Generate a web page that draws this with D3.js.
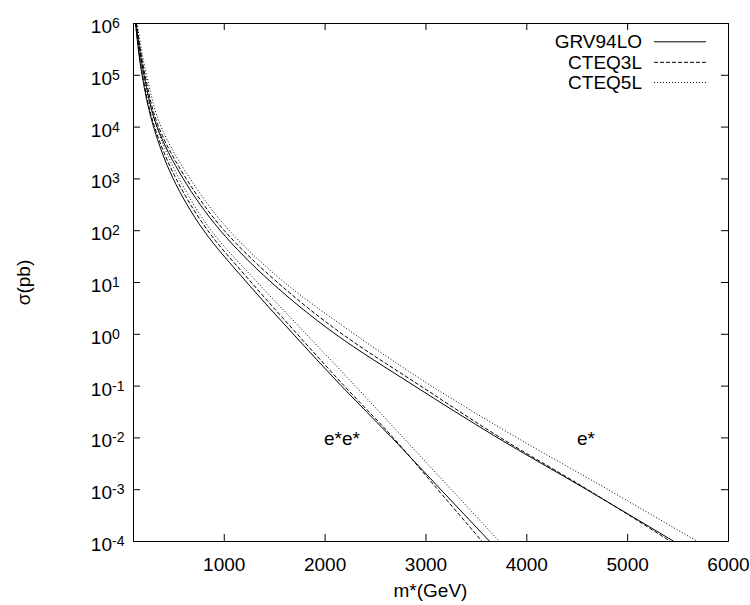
<!DOCTYPE html>
<html>
<head>
<meta charset="utf-8">
<script src="https://cdn.jsdelivr.net/npm/d3@7"></script>
<style>
  body { margin: 0; background: #fff; }
  text { font-family: "Liberation Sans", Arial, Helvetica, sans-serif; fill: #000; }
</style>
</head>
<body>
<svg id="chart" width="750" height="605"></svg>
<script>
// ---- data ----
// cross-section levels (pb) at which each curve's mass m* (GeV) was read
const sigmaLevels = [1e6, 1e5, 1e4, 1e3, 1e2, 1e1, 1e0, 1e-1, 1e-2, 1e-3, 1e-4];
// pair production e*e*
const mPairGRV94LO = [125, 189, 303, 497, 799, 1225, 1687, 2163, 2664, 3149, 3633];
const mPairCTEQ3L  = [125, 194, 313, 526, 839, 1270, 1726, 2192, 2678, 3119, 3558];
const mPairCTEQ5L  = [130, 204, 333, 556, 873, 1330, 1815, 2301, 2777, 3253, 3729];
// single production e*
const mSingleGRV94LO = [130, 209, 338, 596, 963, 1468, 2103, 2886, 3709, 4592, 5457];
const mSingleCTEQ3L  = [135, 219, 353, 626, 1002, 1528, 2172, 2946, 3739, 4602, 5424];
const mSingleCTEQ5L  = [140, 234, 378, 665, 1052, 1597, 2291, 3054, 3902, 4804, 5689];

const xTickValues = [1000, 2000, 3000, 4000, 5000, 6000];
const yExponents = [6, 5, 4, 3, 2, 1, 0, -1, -2, -3, -4];
const pdfNames = ["GRV94LO", "CTEQ3L", "CTEQ5L"];
const curveLabels = ["e*e*", "e*"];

// ---- layout ----
const L = 133, R = 728, T = 23, B = 541;
const svg = d3.select("#chart");
const x = d3.scaleLinear().domain([100, 6000]).range([L, R]);
const y = d3.scaleLog().domain([1e-4, 1e6]).range([B, T]);

const dashFor = { "GRV94LO": null, "CTEQ3L": "4,2", "CTEQ5L": "1,2" };

const series = [
  { pdf: "GRV94LO", m: mPairGRV94LO },
  { pdf: "CTEQ3L",  m: mPairCTEQ3L },
  { pdf: "CTEQ5L",  m: mPairCTEQ5L },
  { pdf: "GRV94LO", m: mSingleGRV94LO },
  { pdf: "CTEQ3L",  m: mSingleCTEQ3L },
  { pdf: "CTEQ5L",  m: mSingleCTEQ5L }
];

svg.append("defs").append("clipPath").attr("id", "plotclip")
  .append("rect").attr("x", L).attr("y", T).attr("width", R - L).attr("height", B - T);

// points are evenly spaced in log(sigma), so interpolate along y for smooth curves
const line = d3.line().x(d => x(d[0])).y(d => y(d[1])).curve(d3.curveMonotoneY);

const gCurves = svg.append("g").attr("clip-path", "url(#plotclip)");
series.forEach(s => {
  const pts = s.m.map((mv, i) => [mv, sigmaLevels[i]]);
  gCurves.append("path")
    .attr("d", line(pts))
    .attr("fill", "none")
    .attr("stroke", "#000")
    .attr("stroke-width", 1)
    .attr("stroke-dasharray", dashFor[s.pdf]);
});

// ---- axes (ticks inward, mirrored) ----
const fontFam = "Liberation Sans, Arial, Helvetica, sans-serif";
const gx = svg.append("g").attr("transform", `translate(0,${B})`)
  .call(d3.axisBottom(x).tickValues(xTickValues).tickSizeInner(-7).tickSizeOuter(0)
    .tickPadding(16.5).tickFormat(d3.format("d")));
gx.attr("font-size", 19).attr("font-family", fontFam);

svg.append("g").attr("transform", `translate(0,${T})`)
  .call(d3.axisTop(x).tickValues(xTickValues).tickSizeInner(-7).tickSizeOuter(0).tickFormat(""));

svg.append("g").attr("transform", `translate(${L},0)`)
  .call(d3.axisLeft(y).tickValues(sigmaLevels).tickSizeInner(-7).tickSizeOuter(0).tickFormat(""));

svg.append("g").attr("transform", `translate(${R},0)`)
  .call(d3.axisRight(y).tickValues(sigmaLevels).tickSizeInner(-7).tickSizeOuter(0).tickFormat(""));

// y tick labels as 10^n
const gyl = svg.append("g");
yExponents.forEach(e => {
  const yy = y(Math.pow(10, e));
  gyl.append("text").attr("x", 112).attr("y", yy + 10).attr("text-anchor", "end")
    .attr("font-size", 19).text("10");
  gyl.append("text").attr("x", 112).attr("y", yy + 5).attr("text-anchor", "start")
    .attr("font-size", 14).text(String(e));
});

// axis titles
svg.append("text").attr("x", (L + R) / 2).attr("y", 597).attr("text-anchor", "middle")
  .attr("font-size", 19).text("m*(GeV)");
svg.append("text").attr("transform", "translate(29.5,282.5) rotate(-90)")
  .attr("text-anchor", "middle").attr("font-size", 19).text("σ(pb)");

// curve labels
svg.append("text").attr("x", 324).attr("y", 444.5).attr("font-size", 19).text(curveLabels[0]);
svg.append("text").attr("x", 577).attr("y", 445).attr("font-size", 19).text(curveLabels[1]);

// legend
const legBase = [48.3, 68.8, 89];
pdfNames.forEach((name, i) => {
  svg.append("text").attr("x", 642).attr("y", legBase[i]).attr("text-anchor", "end")
    .attr("font-size", 19).text(name);
  svg.append("line").attr("x1", 654).attr("x2", 706)
    .attr("y1", legBase[i] - 6.5).attr("y2", legBase[i] - 6.5)
    .attr("stroke", "#000").attr("stroke-width", 1)
    .attr("stroke-dasharray", dashFor[name]);
});
</script>
</body>
</html>
